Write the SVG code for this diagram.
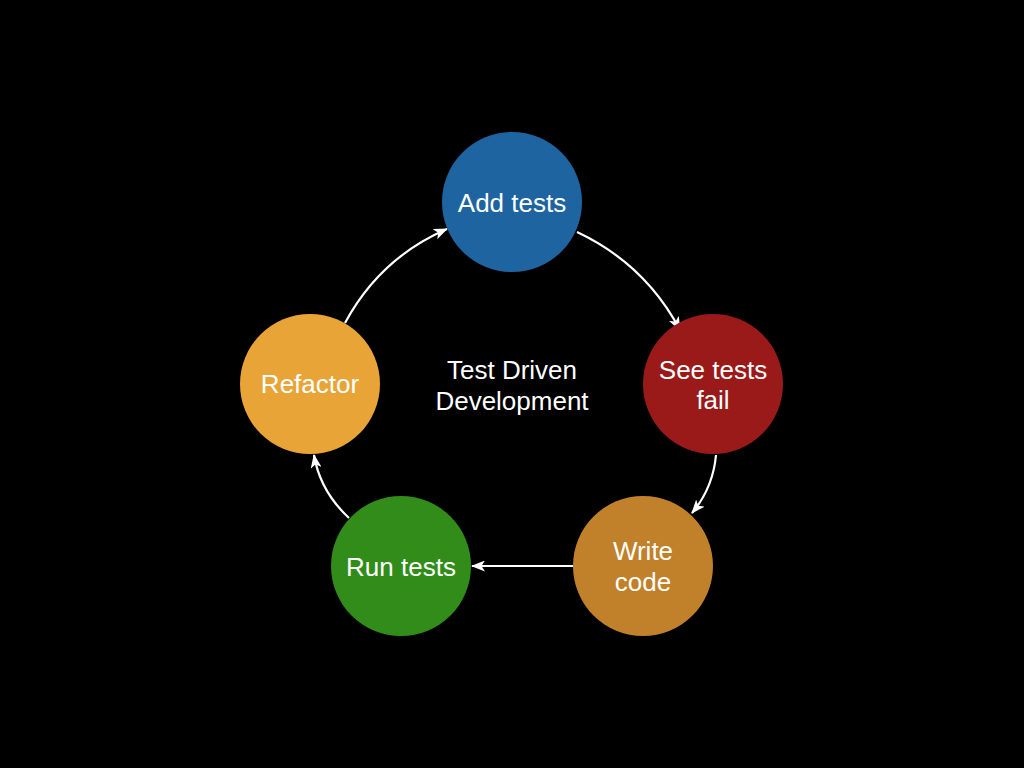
<svg xmlns="http://www.w3.org/2000/svg" width="1024" height="768" viewBox="0 0 1024 768">
<defs>
<marker id="ah" viewBox="0 0 14 11" refX="13" refY="5.5" markerWidth="14" markerHeight="11" markerUnits="userSpaceOnUse" orient="auto">
<path d="M0,0 L14,5.5 L0,11 L3.5,5.5 Z" fill="#ffffff"/>
</marker>
<style>
.n{stroke:none}
.t{font-family:"Liberation Sans",Arial,sans-serif;font-size:26px;fill:#ffffff;text-anchor:middle}
.c{fill:none;stroke:#ffffff;stroke-width:2.2;marker-end:url(#ah)}
</style>
</defs>
<rect width="1024" height="768" fill="#000000"/>
<g id="connectors">
<path class="c" d="M577,232 Q645,264 680,330"/>
<path class="c" d="M716,455 Q713,488 692,513"/>
<path class="c" d="M573,566 L472,566"/>
<path class="c" d="M349,518 Q320,491 314,455"/>
<path class="c" d="M345,323 Q380,258 447,229"/>
</g>
<g id="add-tests">
<circle class="n" cx="512" cy="202" r="70" fill="#1e64a0"/>
<text class="t" x="512" y="212">Add tests</text>
</g>
<g id="see-tests-fail">
<circle class="n" cx="713" cy="384" r="70" fill="#9a1a19"/>
<text class="t" x="713" y="379">See tests</text>
<text class="t" x="713" y="409">fail</text>
</g>
<g id="write-code">
<circle class="n" cx="643" cy="566" r="70" fill="#c0812a"/>
<text class="t" x="643" y="560">Write</text>
<text class="t" x="643" y="591">code</text>
</g>
<g id="run-tests">
<circle class="n" cx="401" cy="566" r="70" fill="#318c1a"/>
<text class="t" x="401" y="576">Run tests</text>
</g>
<g id="refactor">
<circle class="n" cx="310" cy="384" r="70" fill="#e8a436"/>
<text class="t" x="310" y="393">Refactor</text>
</g>
<g id="center-label">
<text class="t" x="512" y="379">Test Driven</text>
<text class="t" x="512" y="410">Development</text>
</g>
</svg>
